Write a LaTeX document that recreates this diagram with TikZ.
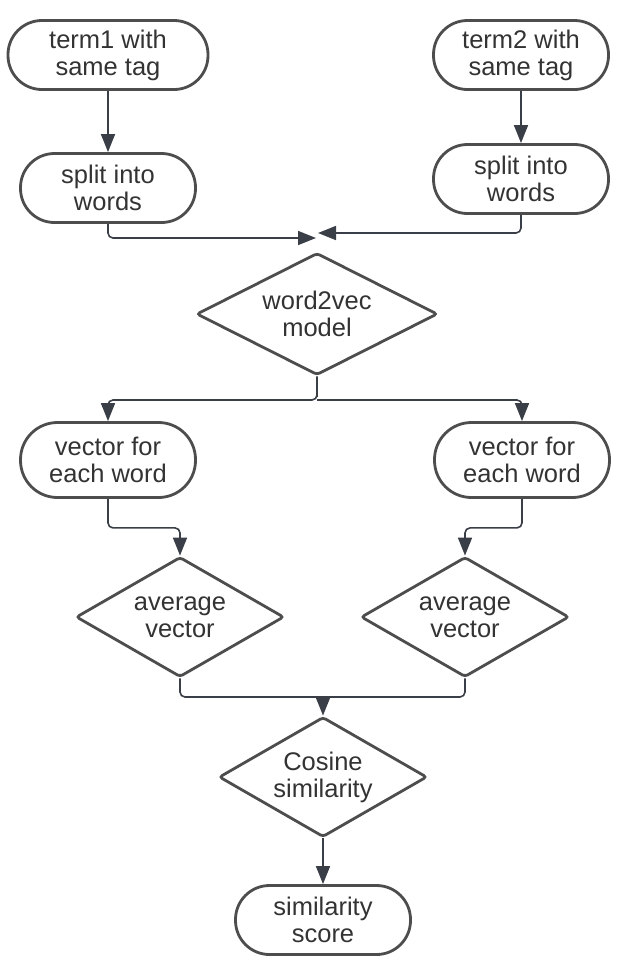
\documentclass[tikz,border=0pt]{standalone}
\usepackage{fontspec}
\setmainfont{Liberation Sans}
\usetikzlibrary{arrows.meta, shapes.geometric}
\definecolor{EdgeGray}{HTML}{4D4D4D}
\definecolor{ArrowSlate}{HTML}{3A3F47}
\definecolor{TextGray}{HTML}{333333}

\begin{document}
\begin{tikzpicture}[
    x=1pt, y=-1pt,
    every node/.style={font=\fontsize{25.5}{27}\selectfont, text=TextGray, align=center},
    term/.style={draw=EdgeGray, line width=2.8pt, rounded corners=34pt, minimum width=175pt, minimum height=69pt, inner sep=0pt},
    decide/.style={diamond, aspect=2, draw=EdgeGray, line width=2.8pt, rounded corners=3pt, inner sep=0pt, minimum width=208pt, minimum height=120pt},
    flow/.style={-{Triangle[length=18pt, width=14pt]}, line width=1.6pt, ArrowSlate, rounded corners=5pt},
    link/.style={line width=1.6pt, ArrowSlate, rounded corners=5pt}
]
\useasboundingbox (0,0) rectangle (638,970);

% Inputs
\node[term, minimum width=200pt] (t1) at (108,55) {term1 with\\same tag};
\node[term] (t2) at (521,55) {term2 with\\same tag};
% Split
\node[term] (sp1) at (108,188) {split into\\words};
\node[term] (sp2) at (521,179) {split into\\words};
% Model
\node[decide, minimum width=241pt, minimum height=122pt] (w2v) at (317,314) {word2vec\\model};
% Vectors
\node[term, minimum height=75pt, rounded corners=37pt] (vec1) at (108,460) {vector for\\each word};
\node[term, minimum height=75pt, rounded corners=37pt] (vec2) at (522,460) {vector for\\each word};
% Averages
\node[decide] (avg1) at (180,617) {average\\vector};
\node[decide] (avg2) at (465,617) {average\\vector};
% Similarity
\node[decide] (cos) at (323,777) {Cosine\\similarity};
\node[term] (score) at (323,920) {similarity\\score};

% Junctions
\coordinate (in1) at (316,238);
\coordinate (in2) at (318,233);
\coordinate (fork) at (317,400);
\coordinate (merge) at (323,697);

% Connectors
\draw[flow] (t1) -- (sp1);
\draw[flow] (t2) -- (sp2);
\draw[flow] (sp1.south) |- (in1);
\draw[flow] (sp2.south) |- (in2);
\draw[flow] (w2v.south) |- (fork) -| (vec1.north);
\draw[flow] (fork) -| (vec2.north);
\draw[flow] (vec1.south) -- ++(0,29) -| (avg1.north);
\draw[flow] (vec2.south) -- ++(0,29) -| (avg2.north);
\draw[link] (avg1.south) |- (merge);
\draw[link] (avg2.south) |- (merge);
\draw[flow] (merge) -- (cos.north);
\draw[flow] (cos) -- (score);
\end{tikzpicture}
\end{document}
